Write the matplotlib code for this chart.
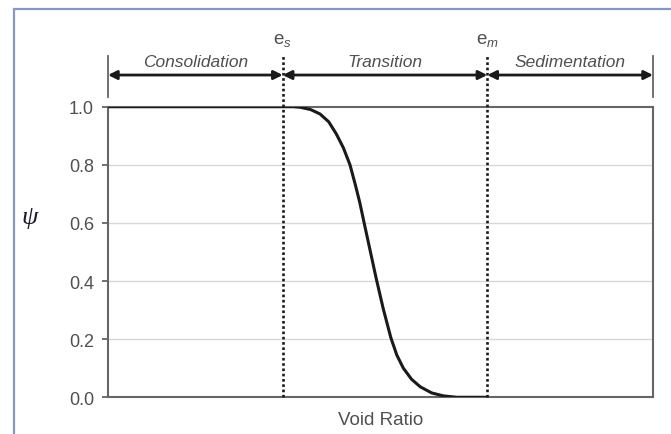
import numpy as np
import matplotlib.pyplot as plt
from matplotlib.patches import Rectangle

plt.rcParams['font.family'] = ['Liberation Sans', 'DejaVu Sans']
plt.rcParams['mathtext.fontset'] = 'custom'
plt.rcParams['mathtext.rm'] = 'Liberation Sans'
plt.rcParams['mathtext.it'] = 'Liberation Sans:italic'

# curve (x in relative void-ratio units, 0..1)
void_ratio = [0.0, 0.3206, 0.340, 0.353, 0.372, 0.389, 0.405, 0.419, 0.432,
              0.444, 0.454, 0.462, 0.470, 0.481, 0.492, 0.505, 0.519, 0.530,
              0.542, 0.557, 0.573, 0.594, 0.615, 0.640, 0.696]
psi = [1.0, 1.0, 1.0, 0.998, 0.99, 0.975, 0.948, 0.906, 0.858,
       0.80, 0.73, 0.67, 0.60, 0.505, 0.41, 0.305, 0.205, 0.145,
       0.100, 0.062, 0.036, 0.015, 0.005, 0.0, 0.0]

e_s = 0.3206
e_m = 0.696
regions = ['Consolidation', 'Transition', 'Sedimentation']
bounds = [0.0, e_s, e_m, 1.0]
yticks = [0.0, 0.2, 0.4, 0.6, 0.8, 1.0]

grey = '#666666'
txt = '#505050'

fig = plt.figure(figsize=(6.71, 4.35), dpi=100)
fig.patches.append(Rectangle((14 / 671, -0.1), 1.2, 1 - 10 / 435 + 0.1,
                             transform=fig.transFigure, fill=False,
                             edgecolor='#8898c0', lw=1.6))

ax = fig.add_axes([108 / 671, 1 - 398.3 / 435, 545 / 671, 290.6 / 435])
ax.set_xlim(0, 1)
ax.set_ylim(0, 1)

for y in yticks[1:-1]:
    ax.axhline(y, color='#d8d8d8', lw=1.0, zorder=0)

ax.plot(void_ratio, psi, color='#1a1a1a', lw=2.2, zorder=3,
        solid_capstyle='round', solid_joinstyle='round')

for e in (e_s, e_m):
    ax.plot([e, e], [0, 1.183], color='#1a1a1a', lw=1.9,
            ls=(0, (1, 1)), clip_on=False, zorder=4)

# region arrows
y_arr = 1.109
for x in (0.0, 1.0):
    ax.plot([x, x], [1.034, 1.175], color=grey, lw=1.3, clip_on=False)
for i, name in enumerate(regions):
    ax.annotate('', xy=(bounds[i], y_arr), xytext=(bounds[i + 1], y_arr),
                xycoords='data', annotation_clip=False,
                arrowprops=dict(arrowstyle='<|-|>', color='#1a1a1a',
                                lw=2.0, mutation_scale=13,
                                shrinkA=0, shrinkB=0))
    ax.text((bounds[i] + bounds[i + 1]) / 2, 1.157, name, style='italic',
            ha='center', va='center', fontsize=12.5, color=txt)

ax.text(e_s, 1.23, r'$\mathrm{e}_{s}$', ha='center', va='center',
        fontsize=13.5, color=txt)
ax.text(e_m, 1.23, r'$\mathrm{e}_{m}$', ha='center', va='center',
        fontsize=13.5, color=txt)

ax.set_yticks(yticks)
ax.set_yticklabels(['%.1f' % v for v in yticks])
ax.set_xticks([])
ax.tick_params(axis='y', direction='out', length=4, width=1.3, color=grey,
               labelcolor=txt, labelsize=13, pad=6)
for s in ax.spines.values():
    s.set_color(grey)
    s.set_linewidth(1.5)

ax.set_xlabel('Void Ratio', fontsize=13.5, color=txt, labelpad=10)
fig.text(30 / 671, 1 - 218 / 435, 'ψ', family='Liberation Serif',
         style='italic', fontsize=19, ha='center', va='center',
         color='#1a1a2a')

fig.savefig('out.png', dpi=100)
